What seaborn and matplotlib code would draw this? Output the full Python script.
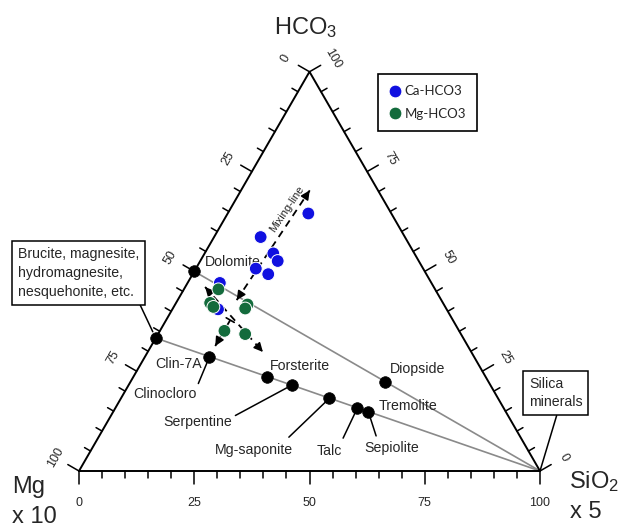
import numpy as np
import pandas as pd
import matplotlib
matplotlib.use("Agg")
import matplotlib.pyplot as plt
import seaborn as sns
from matplotlib import font_manager as fm

# ternary values: HCO3 and SiO2 x5 in percent, Mg x10 is the rest
ca_hco3 = [64.5, 58.6, 54.5, 52.6, 50.7, 49.3, 47.1, 40.5]
ca_sio2 = [17.5, 10.1, 14.9, 16.8, 13.0, 16.4, 7.0, 9.9]
mg_hco3 = [45.5, 42.1, 41.1, 41.7, 40.7, 35.1, 34.3]
mg_sio2 = [7.5, 7.4, 8.6, 15.7, 15.7, 14.0, 18.9]

minerals = ["Dolomite", "Brucite", "Clin-7A", "Forsterite", "Serpentine",
            "Mg-saponite", "Talc", "Sepiolite", "Diopside"]
min_hco3 = [50.0, 33.3, 28.6, 23.6, 21.5, 18.2, 15.8, 14.9, 22.3]
min_sio2 = [0.0, 0.0, 14.0, 29.0, 35.4, 45.2, 52.5, 55.3, 55.3]

# dashed arrows (start, end) as (HCO3, SiO2)
mix_line = [(42.8, 12.8), (70.3, 14.9)]
arrow_two = [(46.1, 4.3), (29.8, 25.0)]
arrow_three = [(37.8, 13.9), (31.3, 13.9)]

ticks = [0, 25, 50, 75, 100]

S3 = np.sqrt(3) / 2
PX = 4.61  # pixels per ternary unit


def tern(h, s):
    h = np.asarray(h, float)
    s = np.asarray(s, float)
    return s + h / 2, h * S3


def pix(x, y):
    return (x - 79) / PX, (471 - y) / PX


sns.set_theme(style="white")
names = {f.name for f in fm.fontManager.ttflist}
narrow = "Liberation Sans Narrow" in names
lab_font = "Liberation Sans Narrow" if narrow else "Liberation Sans"
lab_size = 12 if narrow else 10.2
leg_font = "Lato" if "Lato" in names else "Liberation Sans"
plt.rcParams["font.family"] = ["Liberation Sans", "DejaVu Sans"]
plt.rcParams["mathtext.fontset"] = "custom"
plt.rcParams["mathtext.rm"] = "Liberation Sans"
plt.rcParams["mathtext.it"] = "Liberation Sans:italic"

fig = plt.figure(figsize=(6.19, 5.27), dpi=100)
ax = fig.add_axes([0, 0, 1, 1])
ax.set_xlim(-79 / PX, 540 / PX)
ax.set_ylim(-56 / PX, 471 / PX)
ax.axis("off")

# triangle frame
fx, fy = tern([0, 0, 100, 0], [0, 100, 0, 0])
ax.plot(fx, fy, color="black", lw=1.4, zorder=2)

for v in range(0, 101, 5):
    L = 2.8 if v % 25 == 0 else 1.5
    x0, y0 = tern(0, v)
    ax.plot([x0, x0], [y0, y0 - L], color="black", lw=1.1)
    x0, y0 = tern(100 - v, 0)
    ax.plot([x0, x0 - L * S3], [y0, y0 + L / 2], color="black", lw=1.1)
    x0, y0 = tern(v, 100 - v)
    ax.plot([x0, x0 + L * S3], [y0, y0 + L / 2], color="black", lw=1.1)

D = 27 / PX
for v in ticks:
    x0, y0 = tern(0, v)
    ax.text(x0, y0 - 32 / PX, str(v), ha="center", va="center", fontsize=9)
    x0, y0 = tern(100 - v, 0)
    ax.text(x0 - D * S3, y0 + D / 2, str(v), ha="center", va="center",
            fontsize=9, rotation=60)
    x0, y0 = tern(v, 100 - v)
    ax.text(x0 + D * S3, y0 + D / 2, str(v), ha="center", va="center",
            fontsize=9, rotation=-60)

# axis names
ax.text(*pix(306, 34), "HCO$_3$", ha="center", va="baseline", fontsize=17)
ax.text(*pix(12, 493), "Mg", ha="left", va="baseline", fontsize=17)
ax.text(*pix(12, 523), "x 10", ha="left", va="baseline", fontsize=17)
ax.text(*pix(569, 488), "SiO$_2$", ha="left", va="baseline", fontsize=17)
ax.text(*pix(570, 518), "x 5", ha="left", va="baseline", fontsize=17)

mins = pd.DataFrame({"name": minerals, "HCO3": min_hco3, "SiO2": min_sio2})
mins["x"], mins["y"] = tern(mins["HCO3"], mins["SiO2"])
pos = {n: (x, y) for n, x, y in zip(mins["name"], mins["x"], mins["y"])}

# tie lines to the silica corner
corner = tern(0, 100)
for n in ["Dolomite", "Brucite"]:
    ax.plot([pos[n][0], corner[0]], [pos[n][1], corner[1]],
            color="#8a8a8a", lw=1.2, zorder=1)

samples = pd.DataFrame({
    "HCO3": ca_hco3 + mg_hco3,
    "SiO2": ca_sio2 + mg_sio2,
    "type": ["Ca-HCO3"] * len(ca_hco3) + ["Mg-HCO3"] * len(mg_hco3),
})
samples["x"], samples["y"] = tern(samples["HCO3"], samples["SiO2"])

sns.scatterplot(data=samples, x="x", y="y", hue="type", ax=ax, s=85,
                palette={"Ca-HCO3": "#1010e0", "Mg-HCO3": "#136b3c"},
                edgecolor="white", linewidth=0.7, zorder=4)
sns.scatterplot(data=mins, x="x", y="y", ax=ax, s=70, color="black",
                edgecolor="black", linewidth=0.5, legend=False, zorder=5)
ax.set_xlabel("")
ax.set_ylabel("")


def dashed_arrow(seg, heads=(True, True), bar=False):
    (h0, s0), (h1, s1) = seg
    p0 = np.array(tern(h0, s0))
    p1 = np.array(tern(h1, s1))
    ax.plot([p0[0], p1[0]], [p0[1], p1[1]], color="black", lw=1.3,
            linestyle=(0, (4, 3)), zorder=3)
    u = (p1 - p0) / np.linalg.norm(p1 - p0)
    style = "-|>,head_length=0.45,head_width=0.22"
    if heads[1]:
        ax.annotate("", xy=p1, xytext=p1 - u * 0.8,
                    arrowprops=dict(arrowstyle=style, color="black", lw=1.1,
                                    shrinkA=0, shrinkB=0), zorder=3)
    if heads[0]:
        ax.annotate("", xy=p0, xytext=p0 + u * 0.8,
                    arrowprops=dict(arrowstyle=style, color="black", lw=1.1,
                                    shrinkA=0, shrinkB=0), zorder=3)
    if bar:
        n = np.array([-u[1], u[0]]) * 1.0
        ax.plot([p0[0] - n[0], p0[0] + n[0]], [p0[1] - n[1], p0[1] + n[1]],
                color="black", lw=1.2, zorder=3)


dashed_arrow(mix_line)
dashed_arrow(arrow_two)
dashed_arrow(arrow_three, heads=(False, True), bar=True)
ax.text(*tern(65.6, 12.4), "Mixing-line", rotation=56, ha="center",
        va="center", fontsize=8, family=lab_font)

K = 0.72  # px -> pt
lbl = dict(fontsize=lab_size, family=lab_font, textcoords="offset points")


def lead(rel, sa=0, sb=4):
    return dict(arrowstyle="-", color="black", lw=1.1, relpos=rel,
                shrinkA=sa, shrinkB=sb)


ax.annotate("Dolomite", pos["Dolomite"], xytext=(11 * K, 9.5 * K),
            ha="left", va="center", **lbl)
ax.annotate("Clin-7A", pos["Clin-7A"], xytext=(-7.5 * K, -7 * K),
            ha="right", va="center", **lbl)
ax.annotate("Clinocloro", pos["Clin-7A"], xytext=(-12.5 * K, -37 * K),
            ha="right", va="center", arrowprops=lead((1.0, 1.0)), **lbl)
ax.annotate("Forsterite", pos["Forsterite"], xytext=(3 * K, 11 * K),
            ha="left", va="center", **lbl)
ax.annotate("Serpentine", pos["Serpentine"], xytext=(-94 * K, -37 * K),
            ha="center", va="center", arrowprops=lead((1.0, 0.85)), **lbl)
ax.annotate("Mg-saponite", pos["Mg-saponite"], xytext=(-75 * K, -52 * K),
            ha="center", va="center", arrowprops=lead((0.86, 1.0), 3, 3), **lbl)
ax.annotate("Talc", pos["Talc"], xytext=(-28 * K, -43 * K),
            ha="center", va="center", arrowprops=lead((0.93, 1.0), 2, 4), **lbl)
ax.annotate("Sepiolite", pos["Sepiolite"], xytext=(23 * K, -36 * K),
            ha="center", va="center", arrowprops=lead((0.25, 1.0), 1, 3), **lbl)
ax.annotate("Tremolite", pos["Sepiolite"], xytext=(10 * K, 5.5 * K),
            ha="left", va="center", **lbl)
ax.annotate("Diopside", pos["Diopside"], xytext=(5 * K, 13 * K),
            ha="left", va="center", **lbl)

box = dict(boxstyle="square,pad=0.4", fc="white", ec="black", lw=1.1)
ax.annotate("Brucite, magnesite,\nhydromagnesite,\nnesquehonite, etc.",
            pos["Brucite"], xytext=(-138 * K, 91 * K), ha="left", va="top",
            linespacing=1.45, bbox=box, arrowprops=lead((0.985, 0.0), 0, 5),
            **lbl)
ax.annotate("Silica\nminerals", corner, xytext=(-11 * K, 94 * K),
            ha="left", va="top", linespacing=1.4, bbox=box,
            arrowprops=lead((0.55, 0.0), 0, 0), **lbl)

sns.move_legend(ax, "upper left", bbox_to_anchor=(378 / 619, 1 - 74 / 527),
                bbox_transform=fig.transFigure, title=None, frameon=True,
                fancybox=False, edgecolor="black", framealpha=1,
                borderpad=0.85, labelspacing=0.8, handlelength=0.9,
                handletextpad=0.25, borderaxespad=0,
                prop={"family": leg_font, "size": 9.5})
ax.get_legend().get_frame().set_linewidth(1.2)

fig.savefig("out.png", dpi=100)
